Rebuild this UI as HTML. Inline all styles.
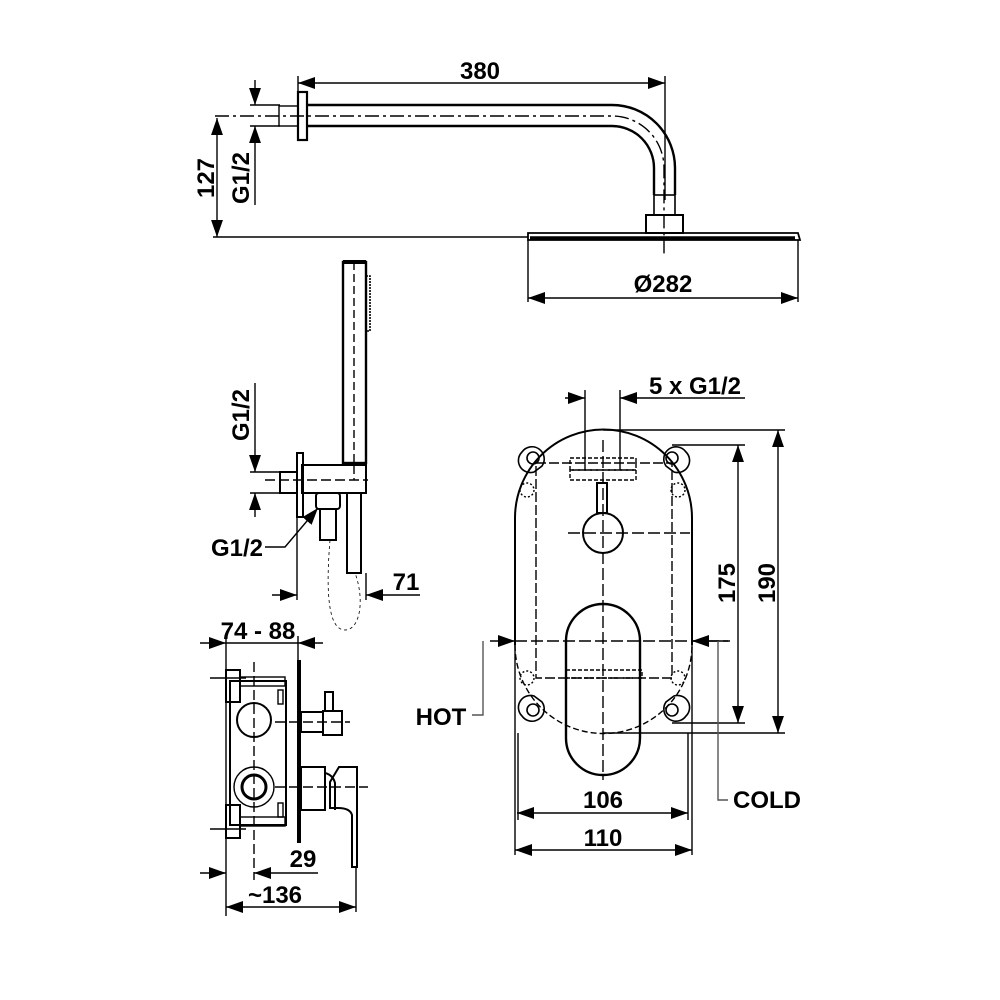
<!DOCTYPE html>
<html><head><meta charset="utf-8"><style>
html,body{margin:0;padding:0;background:#fff;width:1000px;height:1000px;overflow:hidden}
text{font-family:"Liberation Sans",Arial,sans-serif;font-weight:bold;font-size:24px;fill:#000}
</style></head><body>
<svg width="1000" height="1000" viewBox="0 0 1000 1000" xmlns="http://www.w3.org/2000/svg">
<defs>
<marker id="a" viewBox="0 0 10 10" refX="10" refY="5" markerWidth="17" markerHeight="17" markerUnits="userSpaceOnUse" orient="auto-start-reverse"><path d="M0,1.5 L10,5 L0,8.5Z" fill="#000"/></marker>
</defs>
<g fill="none" stroke="#000" stroke-width="1.4">
<line x1="298" y1="83" x2="665" y2="83" marker-start="url(#a)" marker-end="url(#a)"/>
<line x1="298" y1="76" x2="298" y2="96"/><line x1="665" y1="76" x2="665" y2="200"/>
<rect x="298" y="92" width="9" height="48" stroke-width="2.2"/>
<rect x="279" y="106" width="19" height="20"/>
<path d="M307 105 H612 A63 63 0 0 1 675 168 V195" stroke-width="2.4"/>
<path d="M307 126 H612 A42 42 0 0 1 654 168 V195" stroke-width="2.4"/>
<rect x="654" y="195" width="21" height="20" stroke-width="1.6"/>
<rect x="646" y="215" width="37" height="18" stroke-width="2"/>
<path d="M540 233 H798 L800 240 H528 L528 233Z" stroke-width="1.8"/>
<line x1="530" y1="238" x2="795" y2="238" stroke-width="3.5"/>
<path d="M215 116 H612 A52 52 0 0 1 664 168 V256" stroke-dasharray="14,4,3,4"/>
<line x1="528" y1="240" x2="528" y2="302"/><line x1="798" y1="240" x2="798" y2="302"/>
<line x1="528" y1="298" x2="798" y2="298" marker-start="url(#a)" marker-end="url(#a)"/>
<line x1="213" y1="237" x2="528" y2="237"/>
<line x1="217" y1="118" x2="217" y2="237" marker-start="url(#a)" marker-end="url(#a)"/>
<line x1="250" y1="105" x2="280" y2="105"/><line x1="250" y1="126" x2="280" y2="126"/>
<line x1="255" y1="80" x2="255" y2="105" marker-end="url(#a)"/>
<line x1="255" y1="205" x2="255" y2="126" marker-end="url(#a)"/>
<rect x="343" y="262" width="23" height="201" stroke-width="2.4"/>
<line x1="343" y1="262" x2="366" y2="262" stroke-width="4"/>
<line x1="354" y1="262" x2="354" y2="480" stroke-dasharray="8,4"/>
<rect x="366" y="276" width="4" height="55" stroke-dasharray="2,1" stroke-width="1.6"/>
<path d="M302 465 H366 V493 H302Z" stroke-width="2"/>
<rect x="297" y="453" width="6" height="64" stroke-width="2"/>
<rect x="280" y="472" width="17" height="21" stroke-width="2"/>
<line x1="265" y1="480" x2="368" y2="480" stroke-dasharray="10,4"/>
<rect x="316" y="493" width="24" height="16" rx="3" stroke-width="2"/>
<rect x="320" y="509" width="16" height="31" stroke-width="2"/>
<rect x="347" y="493" width="14" height="80" stroke-width="2"/>
<path d="M330 540 C325 600 330 630 345 630 C360 630 365 600 355 573" stroke-dasharray="3,3" stroke-width="0.8"/>
<line x1="297" y1="517" x2="297" y2="600"/><line x1="366" y1="573" x2="366" y2="600"/>
<line x1="272" y1="595" x2="297" y2="595" marker-end="url(#a)"/>
<line x1="420" y1="595" x2="366" y2="595" marker-end="url(#a)"/>
<line x1="255" y1="383" x2="255" y2="472" marker-end="url(#a)"/>
<line x1="255" y1="517" x2="255" y2="493" marker-end="url(#a)"/>
<line x1="250" y1="472" x2="285" y2="472"/><line x1="250" y1="493" x2="285" y2="493"/>
<path d="M265 547 H285 L318 508" marker-end="url(#a)"/>
<line x1="200" y1="643" x2="226" y2="643" marker-end="url(#a)"/>
<line x1="323" y1="643" x2="298" y2="643" marker-end="url(#a)"/>
<line x1="226" y1="643" x2="298" y2="643"/>
<line x1="226" y1="636" x2="226" y2="916"/><line x1="298" y1="636" x2="298" y2="660"/>
<line x1="299" y1="660" x2="299" y2="843" stroke-width="4"/>
<rect x="230" y="681" width="56" height="144" stroke-width="2"/>
<rect x="226" y="670" width="14" height="32" stroke-width="2"/>
<rect x="240" y="677" width="45" height="9"/>
<rect x="226" y="805" width="14" height="33" stroke-width="2"/>
<rect x="240" y="817" width="45" height="9"/>
<rect x="278" y="690" width="5" height="14"/><rect x="278" y="803" width="5" height="14"/>
<circle cx="254" cy="720" r="17" stroke-width="2"/>
<circle cx="254" cy="787" r="20"/><circle cx="254" cy="787" r="12" stroke-width="3"/>
<line x1="254" y1="662" x2="254" y2="880" stroke-dasharray="10,4"/>
<line x1="210" y1="678" x2="246" y2="678"/><line x1="210" y1="829" x2="246" y2="829"/>
<line x1="275" y1="722" x2="350" y2="722" stroke-dasharray="10,4"/>
<line x1="275" y1="787" x2="368" y2="787" stroke-dasharray="10,4"/>
<rect x="301" y="712" width="22" height="20" stroke-width="2"/>
<rect x="323" y="711" width="19" height="24" stroke-width="2"/>
<rect x="325" y="692" width="8" height="19" stroke-width="2"/>
<rect x="301" y="767" width="24" height="43" stroke-width="2"/>
<path d="M325 773 Q333 775 335 783 L335 810" stroke-width="2"/>
<path d="M339 767 H357 V867 H352 V815 Q350 808 338 808 H330 V782Z" stroke-width="2"/>
<line x1="200" y1="873" x2="226" y2="873" marker-end="url(#a)"/>
<line x1="318" y1="873" x2="254" y2="873" marker-end="url(#a)"/>
<line x1="226" y1="907" x2="356" y2="907" marker-start="url(#a)" marker-end="url(#a)"/>
<line x1="356" y1="867" x2="356" y2="912"/>
<line x1="565" y1="398" x2="585" y2="398" marker-end="url(#a)"/>
<line x1="745" y1="398" x2="620" y2="398" marker-end="url(#a)"/>
<line x1="585" y1="390" x2="585" y2="470"/><line x1="620" y1="390" x2="620" y2="470"/>
<path d="M515 645 V518 A88.5 88.5 0 0 1 692 518 V645" stroke-width="2"/>
<path d="M515 645 A88.5 88.5 0 0 0 692 645" stroke-dasharray="6,3"/>
<line x1="515" y1="520" x2="515" y2="855"/><line x1="692" y1="520" x2="692" y2="855"/>
<line x1="518" y1="733" x2="518" y2="820"/><line x1="688" y1="733" x2="688" y2="820"/>
<rect x="536" y="463" width="136" height="215" stroke-dasharray="10,3"/>
<rect x="570" y="458" width="66" height="12" stroke-dasharray="4,2"/>
<rect x="570" y="470" width="66" height="10" stroke-dasharray="4,2"/>
<rect x="566" y="670" width="76" height="8" stroke-dasharray="4,2"/>
<g stroke-width="1.6">
<path d="M522 452 a12 12 0 1 1 20 14 l-8 6 a12 12 0 0 1 -12 -20Z"/><circle cx="533" cy="458" r="6"/>
<path d="M686 452 a12 12 0 1 0 -20 14 l8 6 a12 12 0 0 0 12 -20Z"/><circle cx="672" cy="458" r="6"/>
<path d="M522 716 a12 12 0 1 0 20 -14 l-8 -6 a12 12 0 0 0 -12 20Z"/><circle cx="533" cy="710" r="6"/>
<path d="M686 716 a12 12 0 1 1 -20 -14 l8 -6 a12 12 0 0 1 12 20Z"/><circle cx="672" cy="710" r="6"/>
</g>
<circle cx="527" cy="490" r="7" stroke-dasharray="2,2"/><circle cx="678" cy="490" r="7" stroke-dasharray="2,2"/>
<circle cx="527" cy="678" r="7" stroke-dasharray="2,2"/><circle cx="678" cy="678" r="7" stroke-dasharray="2,2"/>
<circle cx="603" cy="533" r="20" stroke-width="2"/>
<rect x="597" y="483" width="10" height="30" stroke-width="2"/>
<path d="M566 641 A37 37 0 0 1 640 641 V738 A37 37 0 0 1 566 738Z" stroke-width="2.4"/>
<line x1="603" y1="440" x2="603" y2="780" stroke-dasharray="12,4"/>
<line x1="568" y1="533" x2="690" y2="533" stroke-dasharray="12,4"/>
<line x1="515" y1="641" x2="730" y2="641" stroke-dasharray="12,4"/>
<line x1="603" y1="430" x2="785" y2="430"/><line x1="603" y1="733" x2="785" y2="733"/>
<line x1="672" y1="445" x2="745" y2="445"/><line x1="672" y1="723" x2="745" y2="723"/>
<line x1="738" y1="445" x2="738" y2="723" marker-start="url(#a)" marker-end="url(#a)"/>
<line x1="778" y1="430" x2="778" y2="733" marker-start="url(#a)" marker-end="url(#a)"/>
<line x1="517" y1="813" x2="688" y2="813" marker-start="url(#a)" marker-end="url(#a)"/>
<line x1="515" y1="850" x2="692" y2="850" marker-start="url(#a)" marker-end="url(#a)"/>
<line x1="490" y1="641" x2="515" y2="641" marker-end="url(#a)"/>
<line x1="728" y1="641" x2="692" y2="641" marker-end="url(#a)"/>
<path d="M483 641 V715 H472" stroke="#555"/>
<path d="M718 641 V800 H728" stroke="#555"/>
</g>
<text x="480" y="79" text-anchor="middle">380</text>
<text x="663" y="292" text-anchor="middle">Ø282</text>
<text transform="translate(214,178) rotate(-90)" text-anchor="middle">127</text>
<text transform="translate(249,178) rotate(-90)" text-anchor="middle">G1/2</text>
<text transform="translate(249,415) rotate(-90)" text-anchor="middle">G1/2</text>
<text x="237" y="556" text-anchor="middle">G1/2</text>
<text x="406" y="590" text-anchor="middle">71</text>
<text x="258" y="639" text-anchor="middle">74 - 88</text>
<text x="303" y="867" text-anchor="middle">29</text>
<text x="275" y="903" text-anchor="middle">~136</text>
<text x="695" y="394" text-anchor="middle">5 x G1/2</text>
<text transform="translate(735,583) rotate(-90)" text-anchor="middle">175</text>
<text transform="translate(775,583) rotate(-90)" text-anchor="middle">190</text>
<text x="603" y="808" text-anchor="middle">106</text>
<text x="603" y="846" text-anchor="middle">110</text>
<text x="441" y="725" text-anchor="middle">HOT</text>
<text x="767" y="808" text-anchor="middle">COLD</text>
</svg>
</body></html>
